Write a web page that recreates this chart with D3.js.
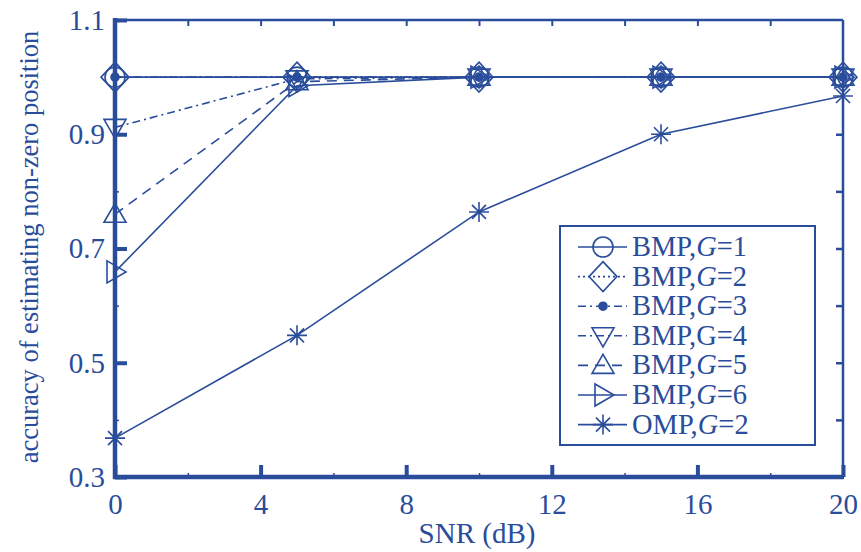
<!DOCTYPE html>
<html>
<head>
<meta charset="utf-8">
<script src="https://cdn.jsdelivr.net/npm/d3@7"></script>
<style>
  body { margin: 0; background: #fff; }
  text { font-family: "Liberation Serif", "Times New Roman", serif; fill: #2a4d9b; }
</style>
</head>
<body>
<div class="canvas"></div>
<script>
// data
const snr = [0, 5, 10, 15, 20]
const bmpG1 = [1.0, 1.0, 1.0, 1.0, 1.0]
const bmpG2 = [1.0, 1.0, 1.0, 1.0, 1.0]
const bmpG3 = [1.0, 1.0, 1.0, 1.0, 1.0]
const bmpG4 = [0.912, 0.997, 1.0, 1.0, 1.0]
const bmpG5 = [0.760, 0.992, 1.0, 1.0, 1.0]
const bmpG6 = [0.659, 0.985, 1.0, 1.0, 1.0]
const ompG2 = [0.368, 0.548, 0.764, 0.900, 0.967]
const seriesNames = ["BMP,G=1", "BMP,G=2", "BMP,G=3", "BMP,G=4", "BMP,G=5", "BMP,G=6", "OMP,G=2"]
const xTicks = [0, 4, 8, 12, 16, 20]
const yTicks = [0.3, 0.5, 0.7, 0.9, 1.1]

const blue = "#2a4d9b"
const W = 861, H = 552

const svg = d3.select(".canvas")
    .append("svg")
    .attr("width", W)
    .attr("height", H)

const margin = { top: 20, right: 18, bottom: 75, left: 115 }
const graphWidth = W - margin.left - margin.right
const graphHeight = H - margin.top - margin.bottom

const graph = svg.append("g")
    .attr("transform", `translate(${margin.left}, ${margin.top})`)

const x = d3.scaleLinear().domain([0, 20]).range([0, graphWidth])
const y = d3.scaleLinear().domain([0.3, 1.1]).range([graphHeight, 0])

// top and right frame (thin)
graph.append("line").attr("x1", 0).attr("x2", graphWidth).attr("y1", 0).attr("y2", 0)
    .attr("stroke", blue).attr("stroke-width", 2.5)
graph.append("line").attr("x1", graphWidth).attr("x2", graphWidth).attr("y1", 0).attr("y2", graphHeight)
    .attr("stroke", blue).attr("stroke-width", 2.5)

const styleAxis = (g, w) => {
    g.select(".domain").remove()
    g.selectAll(".tick line").attr("stroke", blue).attr("stroke-width", w)
    g.selectAll(".tick text").attr("fill", blue).style("font-size", "29px")
        .style("font-family", '"Liberation Serif", serif')
}

// minor ticks
graph.append("g").call(d3.axisTop(x).tickValues(d3.range(2, 20, 2)).tickSize(-6).tickFormat(""))
    .call(g => styleAxis(g, 2))
graph.append("g").attr("transform", `translate(${graphWidth},0)`)
    .call(d3.axisRight(y).tickValues(d3.range(0.4, 1.05, 0.1)).tickSize(-7).tickFormat(""))
    .call(g => styleAxis(g, 2.5))
graph.append("g").attr("transform", `translate(0,${graphHeight})`)
    .call(d3.axisBottom(x).tickValues([2, 6, 10, 14, 18]).tickSize(-4).tickFormat(""))
    .call(g => styleAxis(g, 1.5))
graph.append("g")
    .call(d3.axisLeft(y).tickValues([0.4, 0.6, 0.8, 1.0]).tickSize(-4).tickFormat(""))
    .call(g => styleAxis(g, 1.5))

// major ticks with labels
const xAxisGroup = graph.append("g").attr("transform", `translate(0,${graphHeight})`)
    .call(d3.axisBottom(x).tickValues(xTicks).tickSize(-12).tickPadding(16).tickFormat(d3.format("d")))
    .call(g => styleAxis(g, 4))
const yAxisGroup = graph.append("g")
    .call(d3.axisLeft(y).tickValues(yTicks).tickSize(-12).tickPadding(10).tickFormat(d3.format(".1f")))
    .call(g => styleAxis(g, 4))

// thick left and bottom spines
graph.append("line").attr("x1", 0).attr("x2", 0).attr("y1", -2).attr("y2", graphHeight + 2)
    .attr("stroke", blue).attr("stroke-width", 4.5)
graph.append("line").attr("x1", -2).attr("x2", graphWidth + 1).attr("y1", graphHeight).attr("y2", graphHeight)
    .attr("stroke", blue).attr("stroke-width", 4.5)

// axis titles
svg.append("text")
    .attr("x", margin.left + graphWidth / 2 - 2).attr("y", 543)
    .attr("text-anchor", "middle")
    .style("font-size", "29px")
    .text("SNR (dB)")
svg.append("text")
    .attr("transform", `translate(38, 247) rotate(-90)`)
    .attr("text-anchor", "middle")
    .style("font-size", "26.5px")
    .text("accuracy of estimating non-zero position")

// series
const series = [
    { name: seriesNames[0], values: bmpG1, dash: null, marker: "circle" },
    { name: seriesNames[1], values: bmpG2, dash: "2,3", marker: "diamond" },
    { name: seriesNames[2], values: bmpG3, dash: "8,4,2,4", marker: "dot" },
    { name: seriesNames[3], values: bmpG4, dash: "8,4,2,4", marker: "tdown" },
    { name: seriesNames[4], values: bmpG5, dash: "10,7", marker: "tup" },
    { name: seriesNames[5], values: bmpG6, dash: null, marker: "tright" },
    { name: seriesNames[6], values: ompG2, dash: null, marker: "star" }
]

const line = d3.line().x(d => x(d[0])).y(d => y(d[1]))

function drawMarker(g, type, cx, cy) {
    const m = g.append("g").attr("transform", `translate(${cx},${cy})`)
        .attr("fill", "none").attr("stroke", blue).attr("stroke-width", 1.6)
    if (type === "circle") m.append("circle").attr("r", 10)
    if (type === "diamond") m.append("path").attr("d", "M0,-15L14,0L0,15L-14,0Z")
    if (type === "dot") m.append("circle").attr("r", 4).attr("fill", blue)
    if (type === "tdown") m.append("path").attr("d", "M-11,-8L11,-8L0,11Z")
    if (type === "tup") m.append("path").attr("d", "M-11,8L11,8L0,-11Z")
    if (type === "tright") m.append("path").attr("d", "M-8,-11L-8,11L11,0Z")
    if (type === "star") {
        m.append("path").attr("d", "M0,-10V10M-10,0H10M-7,-7L7,7M-7,7L7,-7")
    }
}

series.forEach(s => {
    const pts = snr.map((v, i) => [v, s.values[i]])
    graph.append("path")
        .datum(pts)
        .attr("d", line)
        .attr("fill", "none")
        .attr("stroke", blue)
        .attr("stroke-width", 1.6)
        .attr("stroke-dasharray", s.dash)
    pts.forEach(p => drawMarker(graph, s.marker, x(p[0]), y(p[1])))
})

// legend
const legend = svg.append("g").attr("transform", "translate(560, 226)")
legend.append("rect").attr("width", 255).attr("height", 219)
    .attr("fill", "#fff").attr("stroke", blue).attr("stroke-width", 2)
series.forEach((s, i) => {
    const ly = 21 + i * 29.6
    legend.append("line").attr("x1", 18).attr("x2", 67).attr("y1", ly).attr("y2", ly)
        .attr("stroke", blue).attr("stroke-width", 1.6).attr("stroke-dasharray", s.dash)
    drawMarker(legend, s.marker, 43, ly)
    const parts = s.name.split("G=")
    const t = legend.append("text").attr("x", 72).attr("y", ly + 9).style("font-size", "28.5px")
    t.append("tspan").text(parts[0])
    t.append("tspan").style("font-style", i === 3 ? "normal" : "italic").text("G")
    t.append("tspan").text("=" + parts[1])
})
</script>
</body>
</html>
